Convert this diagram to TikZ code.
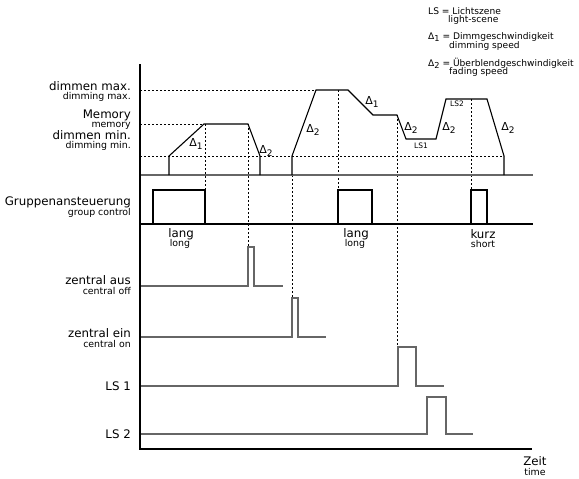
\documentclass[tikz,border=0pt]{standalone}
\usepackage{fontspec}
\setmainfont{DejaVu Sans}
\newcommand\dl[1]{Δ\raisebox{-0.45ex}{\fontsize{9}{9}\selectfont #1}}
\newcommand\dlg[1]{Δ\raisebox{-0.45ex}{\fontsize{8.2}{8.2}\selectfont #1}}
\begin{document}
\begin{tikzpicture}[x=1pt,y=-1pt,
  trace/.style={line width=1.1pt, black},
  sig/.style={line width=1.1pt, black!60},
  guide/.style={line width=0.8pt, dash pattern=on 2pt off 2pt},
  axisline/.style={line width=2pt, black},
  mainlbl/.style={font=\fontsize{11.8}{12}\selectfont, anchor=east, inner sep=0pt},
  sublbl/.style={font=\fontsize{9.4}{10}\selectfont, anchor=east, inner sep=0pt},
  cmain/.style={font=\fontsize{11.8}{12}\selectfont, inner sep=0pt},
  csub/.style={font=\fontsize{9.4}{10}\selectfont, inner sep=0pt},
  dlt/.style={font=\fontsize{11}{12}\selectfont, inner sep=0pt},
  lsl/.style={font=\fontsize{7.5}{8}\selectfont, inner sep=0pt},
  leg/.style={font=\fontsize{9.1}{10}\selectfont, anchor=west, inner sep=0pt}
]
\useasboundingbox (0,0) rectangle (579,479);

% guide lines (dotted)
\draw[guide] (140,90) -- (316,90);
\draw[guide] (140,124) -- (204,124);
\draw[guide] (140,156) -- (504,156);
\draw[guide] (205,124) -- (205,190);
\draw[guide] (248,124) -- (248,247);
\draw[guide] (292,175) -- (292,298);
\draw[guide] (338,90) -- (338,190);
\draw[guide] (397,115) -- (397,347);
\draw[guide] (471,99) -- (471,190);

% baselines
\draw[line width=1.8pt, black!60] (140,175) -- (533,175);
\draw[line width=1.5pt] (140,224) -- (533,224);

% dimming trace
\draw[trace] (169,175) -- (169,156) -- (204,124) -- (248,124) -- (260,156) -- (260,175);
\draw[trace] (292,175) -- (292,156) -- (316,90) -- (348,90) -- (373,115) -- (397,115)
  -- (406,139) -- (436,139) -- (446,99) -- (487,99) -- (504,156) -- (504,175);

% group control
\draw[trace] (153,224) -- (153,190) -- (205,190) -- (205,224);
\draw[trace] (338,224) -- (338,190) -- (372,190) -- (372,224);
\draw[trace] (471,224) -- (471,190) -- (487,190) -- (487,224);

% lower signals
\draw[sig] (140,286) -- (248,286) -- (248,247) -- (254,247) -- (254,286) -- (283,286);
\draw[sig] (140,337) -- (292,337) -- (292,298) -- (298,298) -- (298,337) -- (326,337);
\draw[sig] (140,386) -- (398,386) -- (398,347) -- (416,347) -- (416,386) -- (444,386);
\draw[sig] (140,434) -- (427,434) -- (427,397) -- (446,397) -- (446,434) -- (473,434);

% axes
\draw[axisline] (140,64) -- (140,449) -- (532,449);

% left labels
\node[mainlbl] (lmax) at (131,86) {dimmen max.};
\node[sublbl] (smax) at (131,97) {dimming max.};
\node[mainlbl] (lmem) at (131,115.5) {Memory};
\node[sublbl] (smem) at (131,125.5) {memory};
\node[mainlbl] (lmin) at (131,135) {dimmen min.};
\node[sublbl] (smin) at (131,145.5) {dimming min.};
\node[mainlbl] (lgrp) at (131,202) {Gruppenansteuerung};
\node[sublbl] (sgrp) at (131,213) {group control};
\node[mainlbl] (laus) at (131,280) {zentral aus};
\node[sublbl] (saus) at (131,291) {central off};
\node[mainlbl] (lein) at (131,333) {zentral ein};
\node[sublbl] (sein) at (131,344) {central on};
\node[mainlbl] (lls1) at (131,386) {LS 1};
\node[mainlbl] (lls2) at (131,434) {LS 2};

% lang / kurz
\node[cmain] (lang1) at (181,234) {lang};
\node[csub] (long1) at (180,244) {long};
\node[cmain] (lang2) at (356,234) {lang};
\node[csub] (long2) at (355,244) {long};
\node[cmain] (kurz) at (483,234) {kurz};
\node[csub] (short) at (483,244) {short};

% delta labels
\node[dlt] (d1a) at (196,144) {\dl{1}};
\node[dlt] (d2a) at (266,151) {\dl{2}};
\node[dlt] (d2b) at (313,130) {\dl{2}};
\node[dlt] (d1b) at (372,102) {\dl{1}};
\node[dlt] (d2c) at (411,128) {\dl{2}};
\node[dlt] (d2d) at (449,128) {\dl{2}};
\node[dlt] (d2e) at (508,128) {\dl{2}};
\node[lsl] (ls1) at (421,146) {LS1};
\node[lsl] (ls2) at (457,104) {LS2};

% time
\node[cmain] (zeit) at (535,461) {Zeit};
\node[csub] (time) at (535,472) {time};

% legend
\node[leg] (lgls) at (428,11) {LS = Lichtszene};
\node[leg] (lgls2) at (448,20) {light-scene};
\node[leg] (lgd1) at (428,37) {\dlg{1} = Dimmgeschwindigkeit};
\node[leg] (lgd1b) at (449,46) {dimming speed};
\node[leg] (lgd2) at (428,63) {\dlg{2} = Überblendgeschwindigkeit};
\node[leg] (lgd2b) at (449,72) {fading speed};
\end{tikzpicture}
\end{document}
